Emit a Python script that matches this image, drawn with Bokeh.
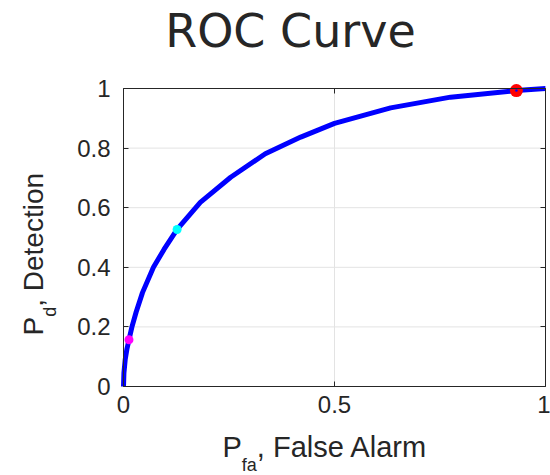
import math
from bokeh.plotting import figure
from bokeh.models import Range1d, FixedTicker, LinearAxis, Label
from bokeh.embed import file_html
from bokeh.resources import INLINE

# ---- data ----
pfa = [0.0, 0.001, 0.004, 0.008, 0.013, 0.020, 0.030, 0.045, 0.071, 0.096,
       0.127, 0.182, 0.254, 0.336, 0.420, 0.500, 0.633, 0.775, 0.931, 1.0]
pd = [0.0, 0.045, 0.090, 0.125, 0.157, 0.200, 0.250, 0.315, 0.400, 0.460,
      0.527, 0.618, 0.702, 0.781, 0.837, 0.883, 0.935, 0.971, 0.993, 1.0]

pt_magenta = (0.013, 0.157)
pt_cyan = (0.127, 0.527)
pt_red = (0.931, 0.993)

x_ticks = [0, 0.5, 1]
x_tick_labels = ["0", "0.5", "1"]
y_ticks = [0, 0.2, 0.4, 0.6, 0.8, 1]
y_tick_labels = ["0", "0.2", "0.4", "0.6", "0.8", "1"]

title_text = "ROC Curve"
xlabel_main, xlabel_sub, xlabel_rest = "P", "fa", ", False Alarm"
ylabel_main, ylabel_sub, ylabel_rest = "P", "d", ", Detection"

# ---- layout: the frame spans the whole canvas; the [0,1] box sits at these pixels ----
W, H = 550, 475
FL, FR, FT, FB = 123, 545, 88, 386   # box edges, screen px from top-left
INK = "#262626"
GRID = "#e3e3e3"
FONT = "Liberation Sans"

def dx(sx):
    return (sx - FL) / (FR - FL)

def dy(sy):
    return (FB - sy) / (FB - FT)

p = figure(width=W, height=H, output_backend="svg", toolbar_location=None,
           x_range=Range1d(dx(0), dx(W)), y_range=Range1d(dy(H), dy(0)),
           min_border=0, x_axis_location=None, y_axis_location=None,
           title_location=None)
p.background_fill_color = "white"
p.border_fill_color = "white"
p.outline_line_color = None
p.grid.visible = False

def make_axis(ticks, labels, loc, show_labels):
    ax = LinearAxis(ticker=FixedTicker(ticks=ticks), fixed_location=loc, bounds=(0, 1))
    ax.axis_line_color = INK
    ax.axis_line_width = 1
    ax.major_tick_line_color = INK
    ax.major_tick_in = 5
    ax.major_tick_out = 0
    ax.minor_tick_line_color = None
    ax.major_label_overrides = dict(zip(ticks, labels))
    if show_labels:
        ax.major_label_text_font = FONT
        ax.major_label_text_font_size = "24px"
        ax.major_label_text_color = INK
    else:
        ax.major_label_text_color = None
    return ax

# ---- grid lines inside the [0,1] box (from the tick lists) ----
gx = x_ticks[1:-1]
gy = y_ticks[1:-1]
p.segment(x0=gx, y0=[0] * len(gx), x1=gx, y1=[1] * len(gx),
          line_color=GRID, line_width=1, level="underlay")
p.segment(x0=[0] * len(gy), y0=gy, x1=[1] * len(gy), y1=gy,
          line_color=GRID, line_width=1, level="underlay")

xb = make_axis(x_ticks, x_tick_labels, 0, True)
xb.major_label_standoff = 9
yl = make_axis(y_ticks, y_tick_labels, 0, True)
yl.major_label_standoff = 13
xt = make_axis(x_ticks, x_tick_labels, 1, False)
yr = make_axis(y_ticks, y_tick_labels, 1, False)
p.add_layout(xb, "below")
p.add_layout(yl, "left")
p.add_layout(xt, "above")
p.add_layout(yr, "right")

# ---- marks ----
p.line(pfa, pd, line_color="#0000ff", line_width=5, line_join="round")
p.scatter([pt_magenta[0]], [pt_magenta[1]], size=9, fill_color="#ff00ff", line_color=None)
p.scatter([pt_cyan[0]], [pt_cyan[1]], size=9, fill_color="#00ffff", line_color=None)
p.scatter([pt_red[0]], [pt_red[1]], size=13, fill_color="#ff0000", line_color=None)
p.scatter([pt_red[0]], [pt_red[1]], size=2.5, fill_color="#0000ff", line_color=None)

# ---- texts: (sx, baseline) in screen px; anchored on the text's middle ----
MID = 0.36   # baseline sits this many ems below the middle anchor

def lab(sx, base, text, size, font=FONT, align="left", rotated=False):
    if rotated:
        x, y, ang = sx - MID * size, base, math.pi / 2
    else:
        x, y, ang = sx, base - MID * size, 0.0
    p.add_layout(Label(x=dx(x), y=dy(y), text=text, text_font=font,
                       text_font_size=f"{size}px", text_color=INK,
                       text_align=align, text_baseline="middle",
                       angle=ang))

# title
lab(290, 47, title_text, 46, font="DejaVu Sans", align="center")

LAB = 29
SUB = 18
# x label: P_fa, False Alarm
x0 = 222
lab(x0, 457, xlabel_main, LAB)
lab(x0 + 0.667 * LAB, 471, xlabel_sub, SUB)
lab(x0 + 0.667 * LAB + 0.834 * SUB, 457, xlabel_rest, LAB)

# y label: P_d, Detection (rotated, reads upward); text runs from y0 upward
y0 = 335
YL = 28
lab(43, y0, ylabel_main, YL, rotated=True)
lab(56, y0 - 0.667 * YL, ylabel_sub, SUB, rotated=True)
lab(43, y0 - 0.667 * YL - 0.556 * SUB, ylabel_rest, YL, rotated=True)

open("out.html", "w").write(file_html(p, INLINE))
